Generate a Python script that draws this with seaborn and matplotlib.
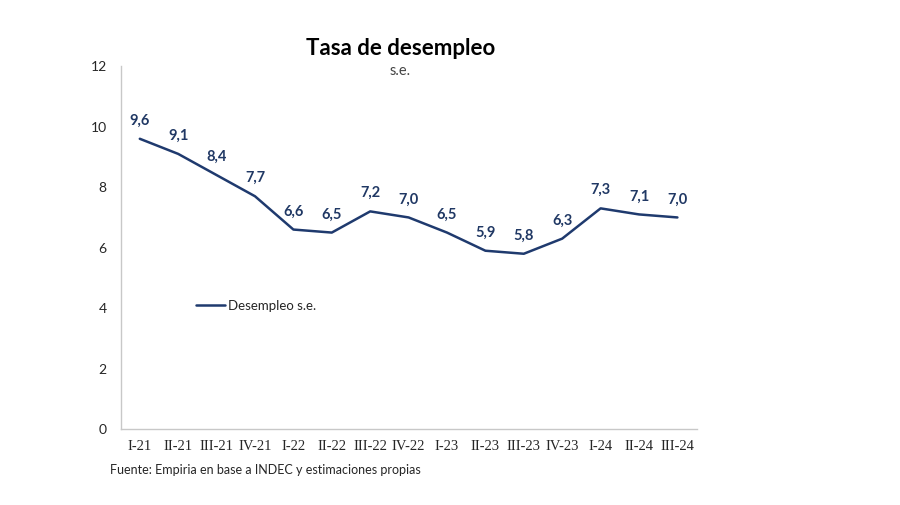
import matplotlib
matplotlib.use("Agg")
import matplotlib.pyplot as plt
import seaborn as sns
import pandas as pd
from matplotlib.ticker import FixedLocator

# Data
quarters = ["I-21", "II-21", "III-21", "IV-21", "I-22", "II-22", "III-22", "IV-22",
            "I-23", "II-23", "III-23", "IV-23", "I-24", "II-24", "III-24"]
desempleo = [9.6, 9.1, 8.4, 7.7, 6.6, 6.5, 7.2, 7.0, 6.5, 5.9, 5.8, 6.3, 7.3, 7.1, 7.0]

df = pd.DataFrame({"trimestre": quarters, "desempleo": desempleo})
df["pos"] = range(len(df))

sns.set_style("white")
plt.rcParams["font.family"] = ["Lato", "DejaVu Sans"]

navy = "#1f3a6e"
grey = "#c8c8c8"

fig = plt.figure(figsize=(9, 5.05), dpi=100)
ax = fig.add_axes([0.134, 0.150, 0.640, 0.719])

sns.lineplot(data=df, x="pos", y="desempleo", color=navy, linewidth=1.8,
             label="Desempleo s.e.", ax=ax)

# Data labels
for x, y in zip(df["pos"], df["desempleo"]):
    ax.annotate(f"{y:.1f}".replace(".", ","), (x, y), xytext=(0, 8),
                textcoords="offset points", ha="center", va="bottom",
                color="#203864", fontsize=10.5, fontweight="bold")

ax.set_xlim(-0.5, len(quarters) - 0.5)
ax.set_ylim(0, 12)
ax.set_yticks(range(0, 13, 2))
ax.set_xticks(df["pos"])
ax.set_xticklabels(quarters, family="Liberation Serif", fontsize=10.5)
ax.xaxis.set_minor_locator(FixedLocator([i - 0.5 for i in range(len(quarters) + 1)]))
ax.tick_params(axis="x", which="major", length=0, pad=8)
ax.tick_params(axis="x", which="minor", length=4, color=grey, width=1)
ax.tick_params(axis="y", length=4, color=grey, width=1, labelsize=10, pad=6)
ax.set_xlabel("")
ax.set_ylabel("")

for side in ["top", "right"]:
    ax.spines[side].set_visible(False)
for side in ["left", "bottom"]:
    ax.spines[side].set_color(grey)
    ax.spines[side].set_linewidth(1)

ax.legend(loc="upper left", bbox_to_anchor=(0.11, 0.39), frameon=False,
          fontsize=9.5, handlelength=2.2, handletextpad=0.2)

fig.text(0.445, 0.883, "Tasa de desempleo", ha="center", va="bottom",
         fontsize=16, fontweight="bold", color="black")
fig.text(0.445, 0.845, "s.e.", ha="center", va="bottom", fontsize=10.5,
         color="#444444")
fig.text(0.122, 0.058, "Fuente: Empiria en base a INDEC y estimaciones propias",
         ha="left", va="bottom", fontsize=9)

fig.savefig("out.png", dpi=100)
